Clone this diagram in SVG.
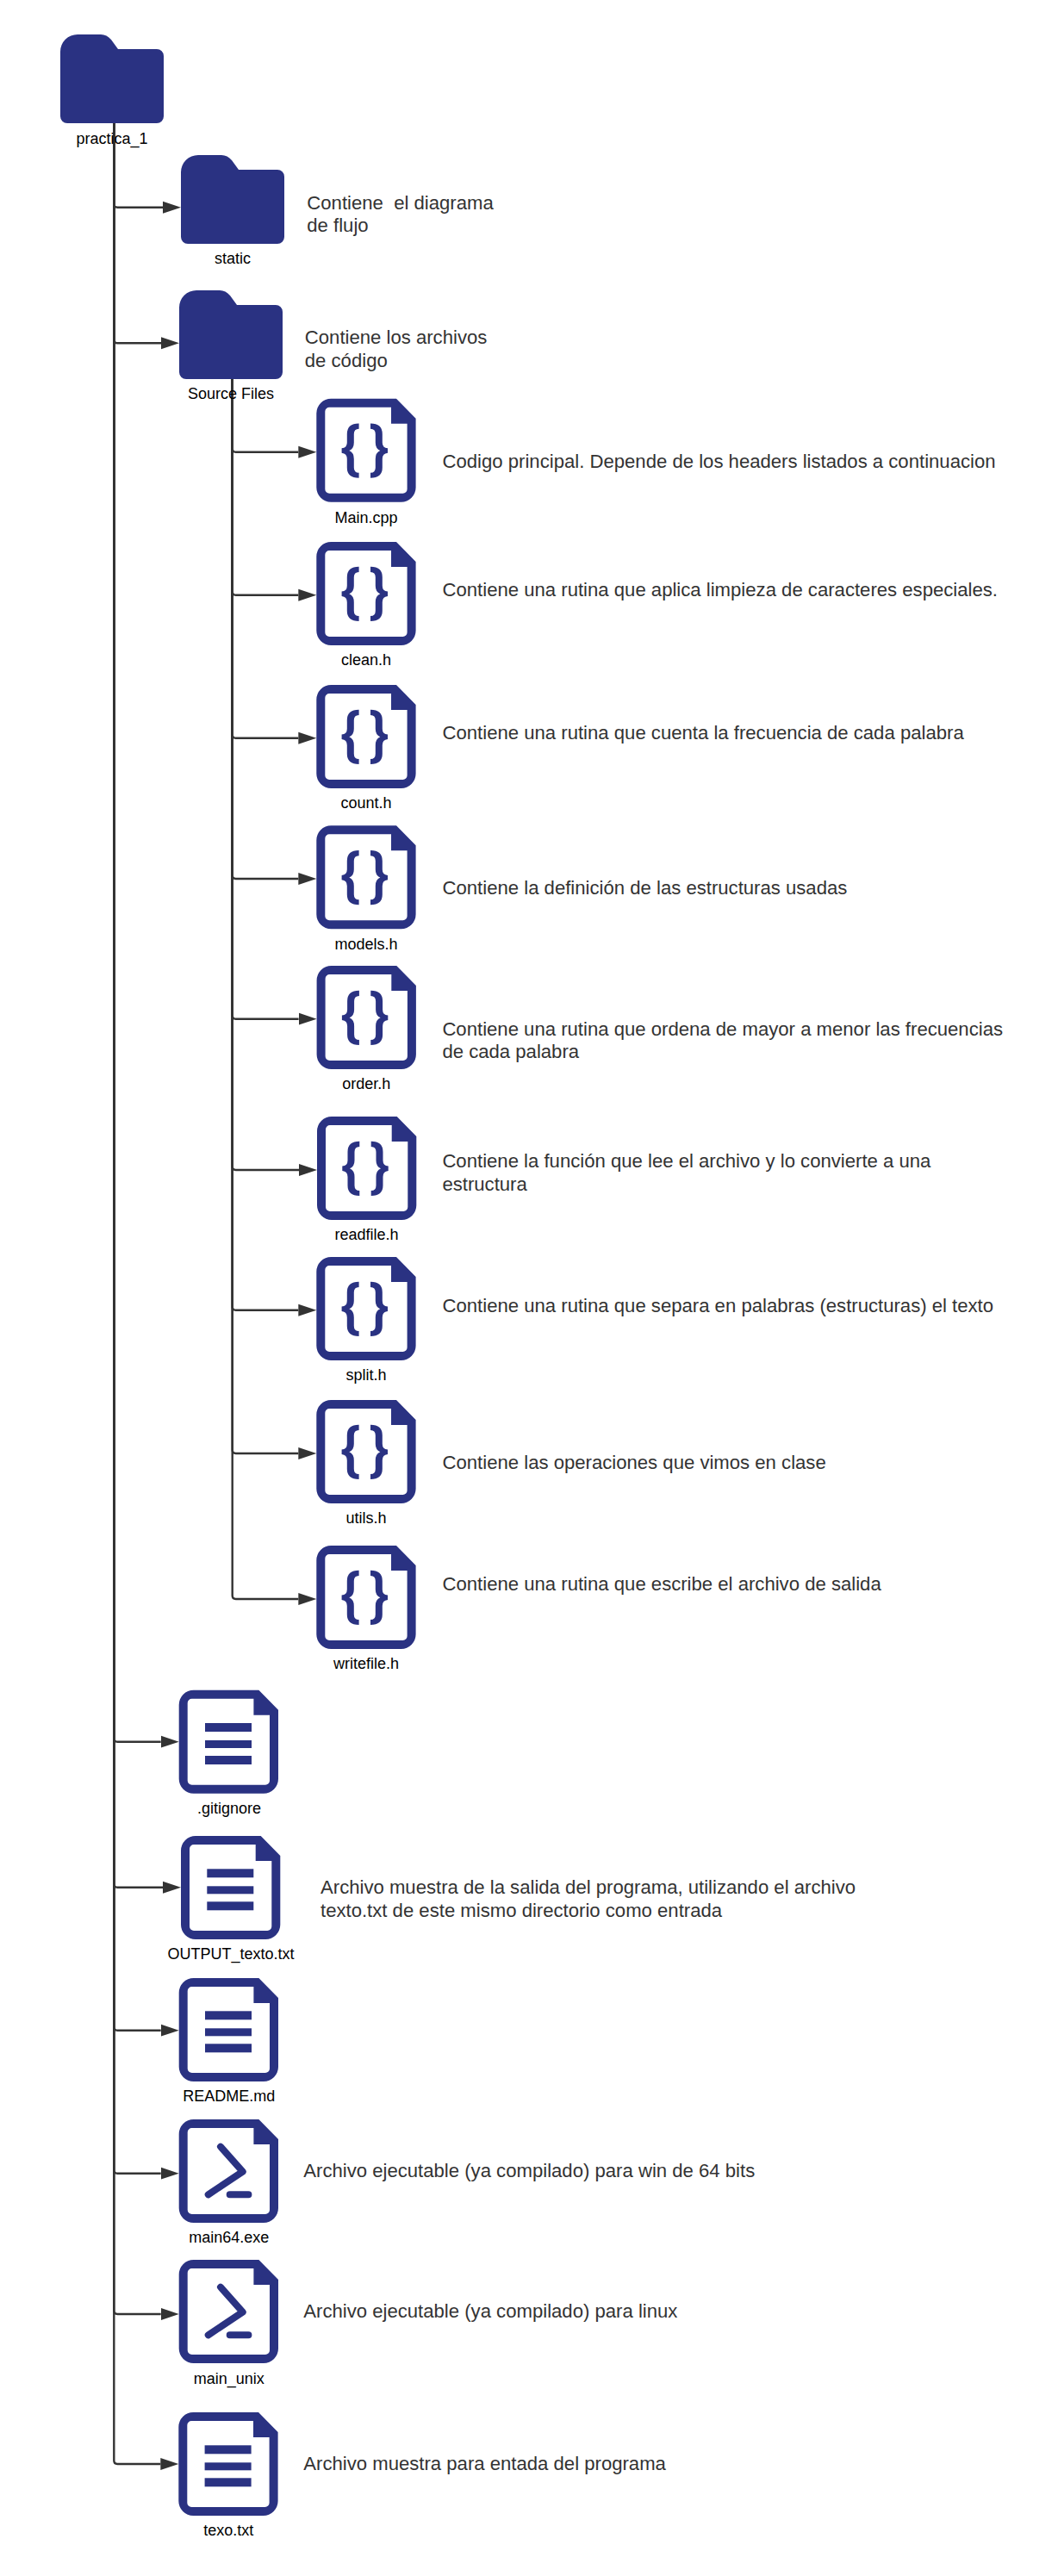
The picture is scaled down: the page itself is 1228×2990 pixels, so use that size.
<svg xmlns="http://www.w3.org/2000/svg" width="1228" height="2990" viewBox="0 0 1228 2990">
<style>
text{font-family:"Liberation Sans",Arial,sans-serif}
.l{font-size:18px;fill:#000;text-anchor:middle}
.d{font-size:22.130px;fill:#333;white-space:pre}
.c{fill:none;stroke:#333;stroke-width:2.4}
.i{fill:#2a3282}
</style>
<defs>
<marker id="a" markerUnits="userSpaceOnUse" markerWidth="22" markerHeight="16" refX="0" refY="8" orient="auto"><path d="M0 1L21 8L0 15z" fill="#333"/></marker>
<path id="folder" class="i" d="M20 0H47Q54 0 59 6L67 17H112a8 8 0 0 1 8 8V95a8 8 0 0 1-8 8H8a8 8 0 0 1-8-8V20A20 20 0 0 1 20 0z"/>
<path id="doc" class="i" fill-rule="evenodd" d="M17 0H92.700L115.300 23V103a17 17 0 0 1-17 17H17a17 17 0 0 1-17-17V17A17 17 0 0 1 17 0zM15 10A5 5 0 0 0 10 15V105a5 5 0 0 0 5 5H100.300a5 5 0 0 0 5-5V29H86.700V10z"/>
<path id="bl" class="i" d="M49.300 28.700V35Q43.500 35 43.500 41V51Q43.500 58 38 60.300Q43.500 62.600 43.500 70V80Q43.500 86 49.300 86V92Q35.500 92 35.500 80V70Q35.500 63.500 29.300 63V57.600Q35.500 57 35.500 51V41Q35.500 28.700 49.300 28.700z"/>
<g id="braces"><use href="#bl"/><use href="#bl" transform="translate(112 0) scale(-1 1)"/></g>
<g id="lines" class="i"><rect x="30.300" y="38.300" width="54" height="10"/><rect x="30.300" y="58.300" width="54" height="9"/><rect x="30.300" y="76.300" width="54" height="10"/></g>
<g id="term" fill="none" stroke="#2a3282" stroke-width="8" stroke-linecap="round" stroke-linejoin="round"><path d="M48.300 31.700L74 60.700L34 87.300M59 87.300H80.700"/></g>
</defs>
<g id="connectors">
<path class="c" marker-end="url(#a)" d="M132.300 143V237Q132.300 240.700 136.300 240.700H189"/>
<path class="c" marker-end="url(#a)" d="M132.300 143V394.300Q132.300 398.300 136.300 398.300H187"/>
<path class="c" marker-end="url(#a)" d="M132.300 143V2017.700Q132.300 2021.700 136.300 2021.700H186.700"/>
<path class="c" marker-end="url(#a)" d="M132.300 143V2186.700Q132.300 2190.700 136.300 2190.700H189"/>
<path class="c" marker-end="url(#a)" d="M132.300 143V2352.700Q132.300 2356.700 136.300 2356.700H186.700"/>
<path class="c" marker-end="url(#a)" d="M132.300 143V2518.700Q132.300 2522.700 136.300 2522.700H186.700"/>
<path class="c" marker-end="url(#a)" d="M132.300 143V2682Q132.300 2686 136.300 2686H186.700"/>
<path class="c" marker-end="url(#a)" d="M132.300 143V2856Q132.300 2860 136.300 2860H186.300"/>
<path class="c" marker-end="url(#a)" d="M269.700 440V520.700Q269.700 524.700 273.700 524.700H346.300"/>
<path class="c" marker-end="url(#a)" d="M269.700 440V686.700Q269.700 690.700 273.700 690.700H346.300"/>
<path class="c" marker-end="url(#a)" d="M269.700 440V852.700Q269.700 856.700 273.700 856.700H346.300"/>
<path class="c" marker-end="url(#a)" d="M269.700 440V1016Q269.700 1020 273.700 1020H346.300"/>
<path class="c" marker-end="url(#a)" d="M269.700 440V1178.700Q269.700 1182.700 273.700 1182.700H346.600"/>
<path class="c" marker-end="url(#a)" d="M269.700 440V1354Q269.700 1358 273.700 1358H347"/>
<path class="c" marker-end="url(#a)" d="M269.700 440V1516.700Q269.700 1520.700 273.700 1520.700H346.300"/>
<path class="c" marker-end="url(#a)" d="M269.700 440V1683Q269.700 1687 273.700 1687H346.300"/>
<path class="c" marker-end="url(#a)" d="M269.700 440V1852Q269.700 1856 273.700 1856H346.300"/>
</g>
<g id="practica_1"><use href="#folder" x="70" y="40"/><text class="l" x="130" y="166.700">practica_1</text></g>
<g id="static"><use href="#folder" x="210" y="180"/><text class="l" x="270" y="306">static</text><text class="d" x="356.300" y="242.700">Contiene  el diagrama</text><text class="d" x="356.300" y="269.400">de flujo</text></g>
<g id="source_files"><use href="#folder" x="208" y="337"/><text class="l" x="268" y="463">Source Files</text><text class="d" x="353.800" y="399">Contiene los archivos</text><text class="d" x="353.800" y="425.700">de código</text></g>
<g id="main_cpp"><use href="#doc" x="367.300" y="462.700"/><use href="#braces" x="367.300" y="462.700"/><text class="l" x="425" y="606.700">Main.cpp</text><text class="d" x="513.500" y="543.300">Codigo principal. Depende de los headers listados a continuacion</text></g>
<g id="clean_h"><use href="#doc" x="367.300" y="629"/><use href="#braces" x="367.300" y="629"/><text class="l" x="425" y="772.300">clean.h</text><text class="d" x="513.500" y="692">Contiene una rutina que aplica limpieza de caracteres especiales.</text></g>
<g id="count_h"><use href="#doc" x="367.300" y="795"/><use href="#braces" x="367.300" y="795"/><text class="l" x="425" y="938.300">count.h</text><text class="d" x="513.500" y="858">Contiene una rutina que cuenta la frecuencia de cada palabra</text></g>
<g id="models_h"><use href="#doc" x="367.300" y="958.300"/><use href="#braces" x="367.300" y="958.300"/><text class="l" x="425" y="1101.700">models.h</text><text class="d" x="513.500" y="1038">Contiene la definición de las estructuras usadas</text></g>
<g id="order_h"><use href="#doc" x="367.600" y="1121"/><use href="#braces" x="367.600" y="1121"/><text class="l" x="425.300" y="1264">order.h</text><text class="d" x="513.400" y="1201.700">Contiene una rutina que ordena de mayor a menor las frecuencias</text><text class="d" x="513.400" y="1228.400">de cada palabra</text></g>
<g id="readfile_h"><use href="#doc" x="368" y="1296"/><use href="#braces" x="368" y="1296"/><text class="l" x="425.500" y="1439.300">readfile.h</text><text class="d" x="513.400" y="1355">Contiene la función que lee el archivo y lo convierte a una</text><text class="d" x="513.400" y="1381.700">estructura</text></g>
<g id="split_h"><use href="#doc" x="367.300" y="1459"/><use href="#braces" x="367.300" y="1459"/><text class="l" x="425" y="1602.300">split.h</text><text class="d" x="513.500" y="1522.500">Contiene una rutina que separa en palabras (estructuras) el texto</text></g>
<g id="utils_h"><use href="#doc" x="367.300" y="1625"/><use href="#braces" x="367.300" y="1625"/><text class="l" x="425" y="1768.300">utils.h</text><text class="d" x="513.500" y="1705">Contiene las operaciones que vimos en clase</text></g>
<g id="writefile_h"><use href="#doc" x="367.300" y="1794"/><use href="#braces" x="367.300" y="1794"/><text class="l" x="425" y="1937.300">writefile.h</text><text class="d" x="513.500" y="1845.500">Contiene una rutina que escribe el archivo de salida</text></g>
<g id="gitignore"><use href="#doc" x="207.700" y="1961.700"/><use href="#lines" x="207.700" y="1961.700"/><text class="l" x="266" y="2105">.gitignore</text></g>
<g id="output_texto"><use href="#doc" x="210" y="2131"/><use href="#lines" x="210" y="2131"/><text class="l" x="268" y="2274">OUTPUT_texto.txt</text><text class="d" x="372" y="2198.300">Archivo muestra de la salida del programa, utilizando el archivo</text><text class="d" x="372" y="2225">texto.txt de este mismo directorio como entrada</text></g>
<g id="readme"><use href="#doc" x="207.700" y="2296"/><use href="#lines" x="207.700" y="2296"/><text class="l" x="265.700" y="2439">README.md</text></g>
<g id="main64"><use href="#doc" x="207.700" y="2460"/><use href="#term" x="207.700" y="2460"/><text class="l" x="265.700" y="2603">main64.exe</text><text class="d" x="352.300" y="2526.700">Archivo ejecutable (ya compilado) para win de 64 bits</text></g>
<g id="main_unix"><use href="#doc" x="207.700" y="2623"/><use href="#term" x="207.700" y="2623"/><text class="l" x="265.700" y="2766.700">main_unix</text><text class="d" x="352.300" y="2690">Archivo ejecutable (ya compilado) para linux</text></g>
<g id="texo"><use href="#doc" x="207.300" y="2800"/><use href="#lines" x="207.300" y="2800"/><text class="l" x="265.300" y="2943">texo.txt</text><text class="d" x="352.300" y="2867.300">Archivo muestra para entada del programa</text></g>
</svg>
